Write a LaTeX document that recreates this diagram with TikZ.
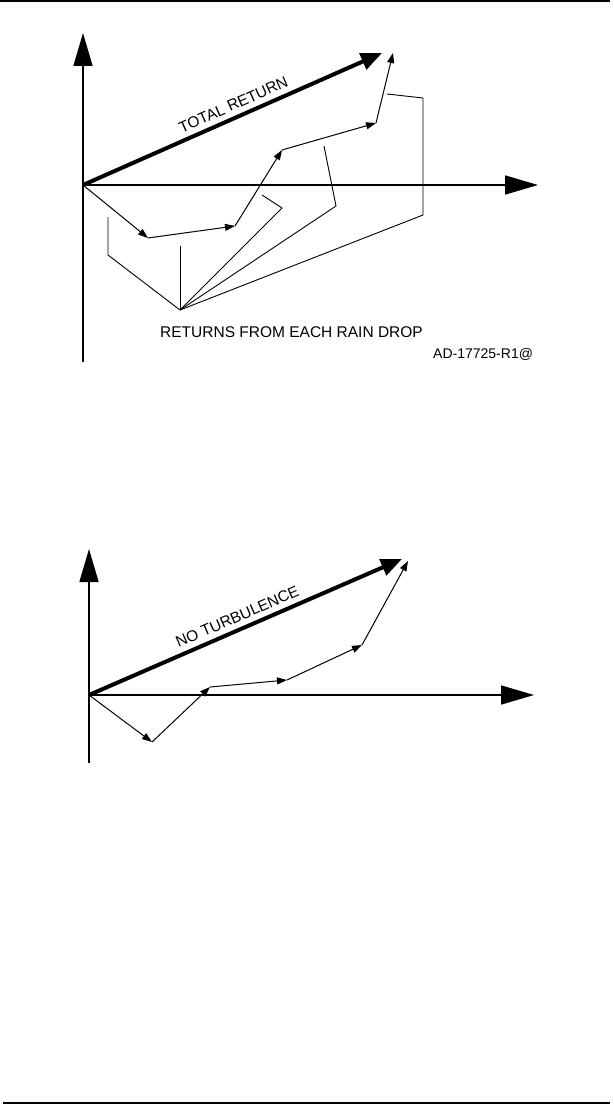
\documentclass[tikz,border=0pt]{standalone}
\usepackage{fontspec}
\setmainfont{Liberation Sans}
\usetikzlibrary{arrows.meta}

\begin{document}
\begin{tikzpicture}[x=1pt,y=-1pt,
    axis/.style={line width=1.6pt,-{Triangle[length=33pt,width=19pt]}},
    vec/.style={line width=1pt,-{Triangle[length=10pt,width=7pt]}},
    bigvec/.style={line width=4pt,-{Triangle[length=21pt,width=17pt]}},
    lead/.style={line width=0.9pt},
    lbl/.style={font=\fontsize{15.5}{18}\selectfont},
    tag/.style={font=\fontsize{14}{16}\selectfont}]
  \useasboundingbox (0,0) rectangle (613,1105);
  % page rules
  \coordinate (rl1) at (0,1);    \coordinate (rr1) at (610,1);
  \coordinate (rl2) at (3,1103); \coordinate (rr2) at (610,1103);
  \draw[line width=2pt] (rl1) -- (rr1);
  \draw[line width=2pt] (rl2) -- (rr2);

  % upper diagram: total return
  \coordinate (O1) at (83,185);
  \coordinate (Y1) at (83,33);
  \coordinate (Y1b) at (83,362);
  \coordinate (X1) at (538,185);
  \coordinate (T1) at (382,53);
  \draw[axis] (Y1b) -- (Y1);
  \draw[axis] (O1) -- (X1);
  \draw[bigvec] (O1) -- (T1) node[lbl,pos=.52,sloped,above=2pt] {TOTAL RETURN};
  \coordinate (a1) at (148,238);
  \coordinate (a2) at (235,226);
  \coordinate (a3) at (282,150);
  \coordinate (a4) at (376,123);
  \coordinate (a5) at (393,53);
  \draw[vec] (O1) -- (a1);
  \draw[vec] (a1) -- (a2);
  \draw[vec] (a2) -- (a3);
  \draw[vec] (a3) -- (a4);
  \draw[vec] (a4) -- (a5);
  % leaders to the single returns
  \coordinate (R) at (180,310);
  \draw[lead] (R) -- (108,255) -- (108,217);
  \draw[lead] (R) -- (180,246);
  \draw[lead] (R) -- (282,208) -- (262,195);
  \draw[lead] (R) -- (336,206) -- (324,146);
  \draw[lead] (R) -- (423,215) -- (423,98) -- (387,94);
  \node[lbl,anchor=base west,inner sep=0pt] (drops) at (160,337) {RETURNS FROM EACH RAIN DROP};
  \node[tag,anchor=base west,inner sep=0pt] (code) at (433,358) {AD-17725-R1@};

  % lower diagram: no turbulence
  \coordinate (O2) at (89,695);
  \coordinate (Y2) at (89,549);
  \coordinate (Y2b) at (89,763);
  \coordinate (X2) at (534,695);
  \coordinate (T2) at (402,559);
  \draw[axis] (Y2b) -- (Y2);
  \draw[axis] (O2) -- (X2);
  \draw[bigvec] (O2) -- (T2) node[lbl,pos=.49,sloped,above=2pt] {NO TURBULENCE};
  \coordinate (b1) at (152,742);
  \coordinate (b2) at (210,687);
  \coordinate (b3) at (287,680);
  \coordinate (b4) at (362,645);
  \coordinate (b5) at (408,561);
  \draw[vec] (O2) -- (b1);
  \draw[vec] (b1) -- (b2);
  \draw[vec] (b2) -- (b3);
  \draw[vec] (b3) -- (b4);
  \draw[vec] (b4) -- (b5);
\end{tikzpicture}
\end{document}
